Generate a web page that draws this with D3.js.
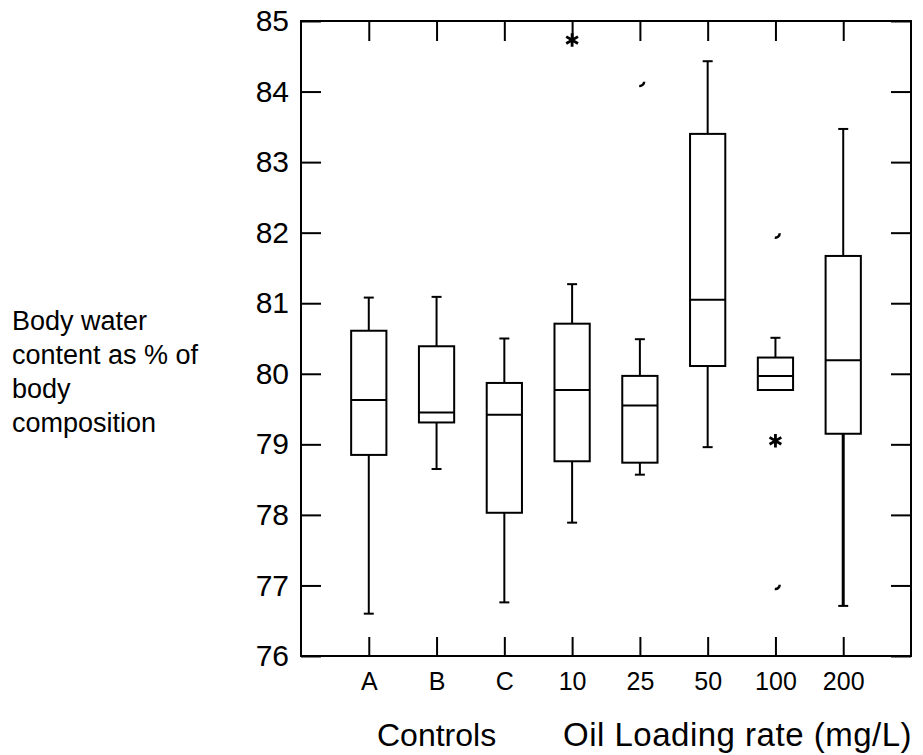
<!DOCTYPE html>
<html>
<head>
<meta charset="utf-8">
<script src="https://cdn.jsdelivr.net/npm/d3@7"></script>
<style>
  body { margin: 0; background: #fff; }
  text { font-family: "Liberation Sans", Arial, sans-serif; fill: #000; }
</style>
</head>
<body>
<div class="boxChart"></div>
<script>
let w = 923;
let h = 755;

// groups along the x axis
const categories = ["A", "B", "C", "10", "25", "50", "100", "200"];

// box summaries (body water %)
const whiskerLow  = [76.60, 78.65, 76.76, 77.89, 78.57, 78.96, 79.77, 76.71];
const q1          = [78.85, 79.31, 78.03, 78.76, 78.74, 80.11, 79.77, 79.15];
const medians     = [79.63, 79.45, 79.42, 79.77, 79.55, 81.05, 79.97, 80.19];
const q3          = [80.61, 80.39, 79.87, 80.71, 79.97, 83.40, 80.23, 81.67];
const whiskerHigh = [81.08, 81.09, 80.50, 81.27, 80.49, 84.43, 80.51, 83.47];

// outliers: far ones drawn as stars, near ones as small open marks
const starCats = ["10", "100"];
const starVals = [84.73, 79.05];
const markCats = ["25", "100", "100"];
const markVals = [84.14, 81.99, 77.01];

const yTicks = [76, 77, 78, 79, 80, 81, 82, 83, 84, 85];
const yLabel = ["Body water", "content as % of", "body", "composition"];

const plotLeft = 301, plotRight = 911, plotTop = 21, plotBottom = 656;

const svg = d3.select(".boxChart")
  .append("svg")
  .attr("width", w)
  .attr("height", h);

const xScale = d3.scalePoint()
  .domain(categories)
  .range([plotLeft, plotRight])
  .padding(1);

const yScale = d3.scaleLinear()
  .domain([76, 85])
  .range([plotBottom, plotTop]);

const boxW = xScale.step() * 0.52;
const capW = 10;

// axes, ticks pointing inwards
const styleAxis = g => {
  g.select(".domain").remove();
  g.selectAll(".tick line").attr("stroke", "#000").attr("stroke-width", 2);
};

svg.append("g")
  .attr("transform", "translate(" + plotLeft + ",0)")
  .call(d3.axisLeft(yScale).tickValues(yTicks).tickSize(-20).tickPadding(12))
  .call(styleAxis)
  .selectAll("text")
  .attr("font-size", 30)
  .style("font-family", "Liberation Sans, Arial, sans-serif");

svg.append("g")
  .attr("transform", "translate(" + plotRight + ",0)")
  .call(d3.axisRight(yScale).tickValues(yTicks).tickSize(-20).tickFormat(""))
  .call(styleAxis);

svg.append("g")
  .attr("transform", "translate(0," + plotBottom + ")")
  .call(d3.axisBottom(xScale).tickSize(-19).tickPadding(16))
  .call(styleAxis)
  .selectAll("text")
  .attr("font-size", 25)
  .style("font-family", "Liberation Sans, Arial, sans-serif");

svg.append("g")
  .attr("transform", "translate(0," + plotTop + ")")
  .call(d3.axisTop(xScale).tickSize(-20).tickFormat(""))
  .call(styleAxis);

// frame
svg.append("rect")
  .attr("x", plotLeft)
  .attr("y", plotTop)
  .attr("width", plotRight - plotLeft)
  .attr("height", plotBottom - plotTop)
  .attr("fill", "none")
  .attr("stroke", "#000")
  .attr("stroke-width", 2);

// boxes
const boxes = svg.selectAll(".box")
  .data(categories)
  .enter()
  .append("g")
  .attr("class", "box")
  .attr("stroke", "#000")
  .attr("stroke-width", 2)
  .attr("fill", "none");

boxes.append("line")
  .attr("x1", d => xScale(d)).attr("x2", d => xScale(d))
  .attr("y1", (d, i) => yScale(q3[i]))
  .attr("y2", (d, i) => yScale(whiskerHigh[i]));

boxes.filter((d, i) => whiskerLow[i] < q1[i])
  .append("line")
  .attr("x1", d => xScale(d)).attr("x2", d => xScale(d))
  .attr("y1", d => yScale(q1[categories.indexOf(d)]))
  .attr("y2", d => yScale(whiskerLow[categories.indexOf(d)]))
  .attr("stroke-width", d => d === "200" ? 3 : 2);

boxes.append("line")
  .attr("x1", d => xScale(d) - capW / 2).attr("x2", d => xScale(d) + capW / 2)
  .attr("y1", (d, i) => yScale(whiskerHigh[i]))
  .attr("y2", (d, i) => yScale(whiskerHigh[i]));

boxes.filter((d, i) => whiskerLow[i] < q1[i])
  .append("line")
  .attr("x1", d => xScale(d) - capW / 2).attr("x2", d => xScale(d) + capW / 2)
  .attr("y1", d => yScale(whiskerLow[categories.indexOf(d)]))
  .attr("y2", d => yScale(whiskerLow[categories.indexOf(d)]));

boxes.append("rect")
  .attr("x", d => xScale(d) - boxW / 2)
  .attr("width", boxW)
  .attr("y", (d, i) => yScale(q3[i]))
  .attr("height", (d, i) => yScale(q1[i]) - yScale(q3[i]))
  .attr("fill", "#fff");

boxes.append("line")
  .attr("x1", d => xScale(d) - boxW / 2).attr("x2", d => xScale(d) + boxW / 2)
  .attr("y1", (d, i) => yScale(medians[i]))
  .attr("y2", (d, i) => yScale(medians[i]));

// outliers
const starType = d3.symbolAsterisk || d3.symbolCross;
svg.selectAll(".star")
  .data(starVals)
  .enter()
  .append("path")
  .attr("class", "star")
  .attr("d", d3.symbol().type(starType).size(130))
  .attr("transform", (d, i) => "translate(" + xScale(starCats[i]) + "," + yScale(d) + ")")
  .attr("fill", "none")
  .attr("stroke", "#000")
  .attr("stroke-width", 2.8);

const hook = d3.arc()
  .innerRadius(3)
  .outerRadius(5.5)
  .startAngle(Math.PI / 2)
  .endAngle(Math.PI * 1.05);

svg.selectAll(".mark")
  .data(markVals)
  .enter()
  .append("path")
  .attr("class", "mark")
  .attr("d", hook)
  .attr("transform", (d, i) => "translate(" + xScale(markCats[i]) + "," + yScale(d) + ")")
  .attr("fill", "#000");

// titles
svg.append("text")
  .attr("x", xScale("B"))
  .attr("y", 746)
  .attr("text-anchor", "middle")
  .attr("font-size", 32)
  .text("Controls");

svg.append("text")
  .attr("x", plotRight + 1)
  .attr("y", 746)
  .attr("text-anchor", "end")
  .attr("font-size", 33)
  .attr("letter-spacing", 0.5)
  .text("Oil Loading rate (mg/L)");

svg.append("text")
  .attr("font-size", 27)
  .selectAll("tspan")
  .data(yLabel)
  .enter()
  .append("tspan")
  .attr("x", 12)
  .attr("y", (d, i) => 330 + i * 34)
  .text(d => d);
</script>
</body>
</html>
